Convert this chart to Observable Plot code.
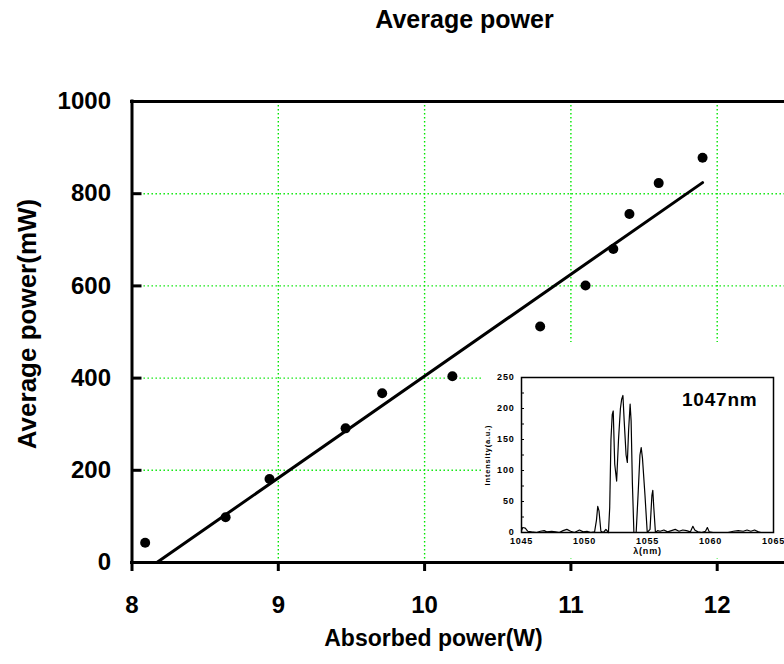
<!DOCTYPE html>
<html><head><meta charset="utf-8">
<script src="https://cdn.jsdelivr.net/npm/d3@7"></script>
<script src="https://cdn.jsdelivr.net/npm/@observablehq/plot@0.6"></script>
<style>
html,body{margin:0;padding:0;background:#fff;overflow:hidden;}
#wrap{position:relative;width:784px;height:664px;}
#wrap svg{position:absolute;left:0;top:0;}
</style></head><body><div id="wrap"></div>
<script>
// ---- main chart data ----
const absorbed = [8.09, 8.64, 8.94, 9.46, 9.71, 10.19, 10.79, 11.10, 11.29, 11.40, 11.60, 11.90];
const avgPower = [43, 98, 181, 291, 367, 404, 512, 601, 680, 756, 823, 878];
const fitAbsorbed = [8.17, 11.90];
const fitPower = [0, 824];
const xTicks = [8, 9, 10, 11, 12];
const yTicks = [0, 200, 400, 600, 800, 1000];
const xGrid = [9, 10, 11, 12];
const yGrid = [200, 400, 600, 800];

// ---- inset spectrum data ----
const wavelength = [1045.0,1045.1,1045.3,1045.5,1045.8,1046.2,1046.5,1046.8,1047.0,1047.4,1047.7,1048.0,1048.3,1048.6,1048.9,1049.2,1049.6,1049.9,1050.2,1050.5,1050.8,1050.95,1051.05,1051.15,1051.3,1051.5,1051.7,1051.9,1052.0,1052.1,1052.2,1052.28,1052.4,1052.55,1052.7,1052.85,1052.95,1053.05,1053.15,1053.3,1053.4,1053.5,1053.62,1053.7,1053.8,1053.92,1054.1,1054.25,1054.4,1054.5,1054.6,1054.8,1054.98,1055.2,1055.35,1055.42,1055.5,1055.63,1055.8,1056.0,1056.3,1056.6,1056.9,1057.2,1057.5,1057.8,1058.1,1058.4,1058.6,1058.75,1059.0,1059.3,1059.6,1059.75,1059.9,1060.2,1060.6,1061.0,1061.4,1061.8,1062.2,1062.6,1062.9,1063.2,1063.5,1063.8,1064.0];
const intensity = [3,8,7,2,1,0,2,3,1,2,1,0,3,5,2,0,4,1,2,0,1,20,42,35,2,0,5,0,40,150,190,196,110,83,150,200,215,221,180,125,113,165,207,180,80,0,0,60,125,137,120,60,0,5,60,68,40,0,3,2,4,1,3,5,2,4,3,1,10,4,1,0,2,8,1,0,0,0,0,2,3,2,4,2,4,1,0];
const insetXTicks = [1045, 1050, 1055, 1060, 1065];
const insetYTicks = [0, 50, 100, 150, 200, 250];
const insetMinorTicks = [25, 50, 75, 100, 125, 150, 175, 200, 225];

const FONT = "'Liberation Sans', Arial, Helvetica, sans-serif";
const W = 784, H = 664, mL = 131.5, mT = 101, mB = 102, mR = 0;
const xMax = 8 + (W - mL) / 146.3;
const plotW = W - mL - mR;
const frameCx = mL + plotW / 2;
const frameCy = mT + (H - mT - mB) / 2;
const plain = d => String(d);

const points = absorbed.map((x, i) => ({x, y: avgPower[i]}));
const fit = fitAbsorbed.map((x, i) => ({x, y: fitPower[i]}));

const main = Plot.plot({
  width: W, height: H,
  marginLeft: mL, marginTop: mT, marginBottom: mB, marginRight: mR,
  style: {fontFamily: FONT, fontWeight: "bold", fontSize: "24px", color: "#000", background: "transparent"},
  x: {domain: [8, xMax]},
  y: {domain: [0, 1000]},
  marks: [
    Plot.ruleX(xGrid, {x: d => d, stroke: "#00e600", strokeWidth: 1.4, strokeDasharray: "1.4,2.6"}),
    Plot.ruleY(yGrid, {y: d => d, stroke: "#00e600", strokeWidth: 1.4, strokeDasharray: "1.4,2.6"}),
    Plot.axisX(xTicks, {tickSize: 9, tickPadding: 24, strokeWidth: 3, label: null, fontSize: 24, tickFormat: plain}),
    Plot.axisY(yTicks, {tickSize: 0, tickPadding: 21, label: null, fontSize: 24, tickFormat: plain}),
    Plot.tickY(yGrid, {y: d => d, insetRight: plotW - 10, strokeWidth: 3}),
    Plot.ruleX([8], {x: d => d, strokeWidth: 3, strokeLinecap: "square"}),
    Plot.ruleY([0, 1000], {y: d => d, strokeWidth: 3, strokeLinecap: "square"}),
    Plot.line(fit, {x: "x", y: "y", strokeWidth: 3}),
    Plot.dot(points, {x: "x", y: "y", r: 5, fill: "#000", stroke: "none"}),
    Plot.text(["Absorbed power(W)"], {text: d => d, frameAnchor: "bottom", textAnchor: "middle", dx: 433 - frameCx, dy: 83, fontSize: 23, fontWeight: "bold"}),
    Plot.text(["Average power(mW)"], {text: d => d, frameAnchor: "left", textAnchor: "middle", rotate: -90, dx: 27 - mL, dy: 323.5 - frameCy, fontSize: 26, fontWeight: "bold"}),
    Plot.text(["Average power"], {text: d => d, frameAnchor: "top", textAnchor: "middle", lineAnchor: "top", dx: 464 - frameCx, dy: 10 - mT, fontSize: 25, fontWeight: "bold"})
  ]
});
document.getElementById("wrap").appendChild(main);

// ---- inset ----
const spectrum = wavelength.map((x, i) => ({x, y: intensity[i]}));
const iW = 301, iH = 216, iL = 38, iT = 35, iR = 11, iB = 26;
const inset = Plot.plot({
  width: iW, height: iH,
  marginLeft: iL, marginTop: iT, marginRight: iR, marginBottom: iB,
  style: {fontFamily: FONT, fontWeight: "bold", fontSize: "9px", color: "#000", background: "#fff", letterSpacing: "0.8px"},
  x: {domain: [1045, 1065]},
  y: {domain: [0, 250]},
  marks: [
    Plot.axisX(insetXTicks, {tickSize: 0, tickPadding: 5, label: null, tickFormat: plain}),
    Plot.axisY(insetYTicks, {tickSize: 0, tickPadding: 7, label: null, tickFormat: plain}),
    Plot.tickY(insetMinorTicks, {y: d => d, insetRight: (iW - iL - iR) - 3, strokeWidth: 1}),
    Plot.line(spectrum, {x: "x", y: "y", strokeWidth: 1.2}),
    Plot.frame({strokeWidth: 1.5}),
    Plot.text(["1047nm"], {text: d => d, frameAnchor: "top-right", textAnchor: "end", lineAnchor: "top", dx: -16, dy: 15, fontSize: 19, fontWeight: "bold"}),
    Plot.text(["λ(nm)"], {text: d => d, frameAnchor: "bottom", textAnchor: "middle", dy: 21, fontSize: 9}),
    Plot.text(["Intensity(a.u.)"], {text: d => d, frameAnchor: "left", textAnchor: "middle", rotate: -90, dx: -34, fontSize: 7.5})
  ]
});
inset.style.left = "483px";
inset.style.top = "342px";
document.getElementById("wrap").appendChild(inset);
</script>
</body></html>
